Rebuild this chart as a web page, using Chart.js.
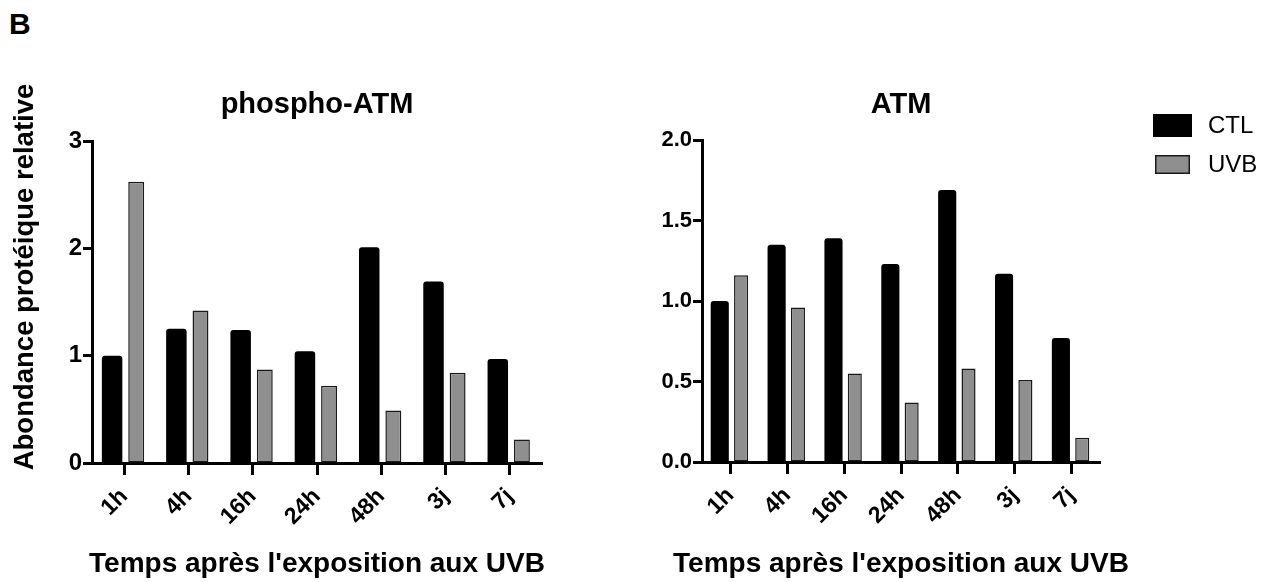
<!DOCTYPE html>
<html>
<head>
<meta charset="utf-8">
<script src="https://cdn.jsdelivr.net/npm/chart.js@4.4.1/dist/chart.umd.min.js"></script>
<style>
  body { margin: 0; background: #fff; width: 1276px; height: 582px; overflow: hidden; position: relative; }
  canvas { position: absolute; top: 0; }
  #letter { position: absolute; left: 9px; top: 7px; font: bold 30px "Liberation Sans", Arial, sans-serif; }
</style>
</head>
<body>
<div id="letter">B</div>
<canvas id="phospho" width="640" height="582" style="left:0"></canvas>
<canvas id="atm" width="636" height="582" style="left:640px"></canvas>
<script>
const timeLabels = ["1h", "4h", "16h", "24h", "48h", "3j", "7j"];
const seriesNames = ["CTL", "UVB"];

const phosphoCtl = [1.00, 1.25, 1.24, 1.04, 2.01, 1.69, 0.97];
const phosphoUvb = [2.62, 1.42, 0.87, 0.72, 0.49, 0.84, 0.22];
const atmCtl = [1.00, 1.35, 1.39, 1.23, 1.69, 1.17, 0.77];
const atmUvb = [1.16, 0.96, 0.55, 0.37, 0.58, 0.51, 0.15];

const phosphoTicks = [0, 1, 2, 3];
const atmTicks = [0, 0.5, 1.0, 1.5, 2.0];

const FONT = '"Liberation Sans", Arial, sans-serif';
const xTitle = "Temps après l'exposition aux UVB";

// titres du panneau (titre, axe x, axe y) dessinés par rapport à la zone du graphe
const panelText = {
  id: "panelText",
  afterDraw(chart, args, opts) {
    const ctx = chart.ctx;
    const area = chart.chartArea;
    const cx = (area.left + area.right) / 2;
    ctx.save();
    ctx.fillStyle = "#000";
    ctx.textAlign = "center";
    ctx.textBaseline = "alphabetic";
    ctx.font = "bold 29px " + FONT;
    ctx.fillText(opts.title, cx, opts.titleY);
    ctx.font = "bold 28px " + FONT;
    ctx.fillText(opts.xTitle, cx, opts.xTitleY);
    if (opts.yTitle) {
      ctx.font = "bold 27.5px " + FONT;
      ctx.translate(opts.yTitleX, opts.yTitleY);
      ctx.rotate(-Math.PI / 2);
      ctx.fillText(opts.yTitle, 0, 0);
    }
    ctx.restore();
  }
};

const boxLegend = {
  id: "boxLegend",
  afterDraw(chart, args, opts) {
    if (!opts.show) return;
    const ctx = chart.ctx;
    ctx.save();
    chart.data.datasets.forEach((ds, i) => {
      const y = opts.y + i * opts.step;
      ctx.fillStyle = ds.backgroundColor;
      if (ds.borderWidth) {
        ctx.fillRect(opts.x + 2, y + 2, opts.w - 4, opts.h - 4);
        ctx.lineWidth = 1.5;
        ctx.strokeStyle = ds.borderColor;
        ctx.strokeRect(opts.x + 2.75, y + 2.75, opts.w - 5.5, opts.h - 5.5);
      } else {
        ctx.fillRect(opts.x, y, opts.w, opts.h);
      }
      ctx.fillStyle = "#000";
      ctx.font = "24px " + FONT;
      ctx.textBaseline = "middle";
      ctx.fillText(ds.label, opts.x + opts.w + 16, y + opts.h / 2 + 1);
    });
    ctx.restore();
  }
};

function makeChart(id, ctl, uvb, ticks, cfg) {
  const step = ticks[1] - ticks[0];
  return new Chart(document.getElementById(id), {
    type: "bar",
    data: {
      labels: timeLabels,
      datasets: [
        { label: seriesNames[0], data: ctl, backgroundColor: "#000", borderWidth: 0,
          borderRadius: { topLeft: 3, topRight: 3 }, borderSkipped: "bottom",
          categoryPercentage: 0.75, barPercentage: 0.85 },
        { label: seriesNames[1], data: uvb, backgroundColor: "#8f8f8f", borderColor: "#1a1a1a",
          borderWidth: 1.5, borderSkipped: false,
          categoryPercentage: 0.75, barPercentage: 0.66 }
      ]
    },
    options: {
      responsive: false,
      animation: false,
      layout: { padding: { top: cfg.top, right: cfg.right, left: 0, bottom: 0 } },
      plugins: {
        legend: { display: false },
        tooltip: { enabled: false },
        panelText: cfg.text,
        boxLegend: cfg.legend
      },
      scales: {
        x: {
          offset: true,
          grid: { offset: false, drawOnChartArea: false, drawTicks: true, tickLength: 12, tickWidth: 3, tickColor: "#000" },
          border: { display: true, width: 3, color: "#000" },
          ticks: { color: "#000", font: { family: FONT, size: 23, weight: "bold" }, minRotation: 45, maxRotation: 45, autoSkip: false, padding: 8 },
          afterFit(scale) { scale.height = 582 - cfg.bottom; }
        },
        y: {
          min: ticks[0],
          max: ticks[ticks.length - 1],
          grid: { drawOnChartArea: false, drawTicks: true, tickLength: 9, tickWidth: 3, tickColor: "#000" },
          border: { display: true, width: 3, color: "#000" },
          ticks: { stepSize: step, color: "#000", padding: 1,
            font: { family: FONT, size: cfg.tickSize, weight: "bold" },
            callback: v => cfg.decimals ? v.toFixed(cfg.decimals) : String(v) },
          afterFit(scale) { scale.width = cfg.left; }
        }
      }
    },
    plugins: [panelText, boxLegend]
  });
}

makeChart("phospho", phosphoCtl, phosphoUvb, phosphoTicks, {
  top: 141, bottom: 463, left: 92, right: 98, tickSize: 24, decimals: 0,
  text: { title: "phospho-ATM", titleY: 113, xTitle: xTitle, xTitleY: 572,
          yTitle: "Abondance protéique relative", yTitleX: 33, yTitleY: 277 },
  legend: { show: false }
});

makeChart("atm", atmCtl, atmUvb, atmTicks, {
  top: 140, bottom: 462, left: 62, right: 176, tickSize: 22, decimals: 1,
  text: { title: "ATM", titleY: 113, xTitle: xTitle, xTitleY: 572 },
  legend: { show: true, x: 513, y: 114, w: 39, h: 23, step: 39 }
});
</script>
</body>
</html>
